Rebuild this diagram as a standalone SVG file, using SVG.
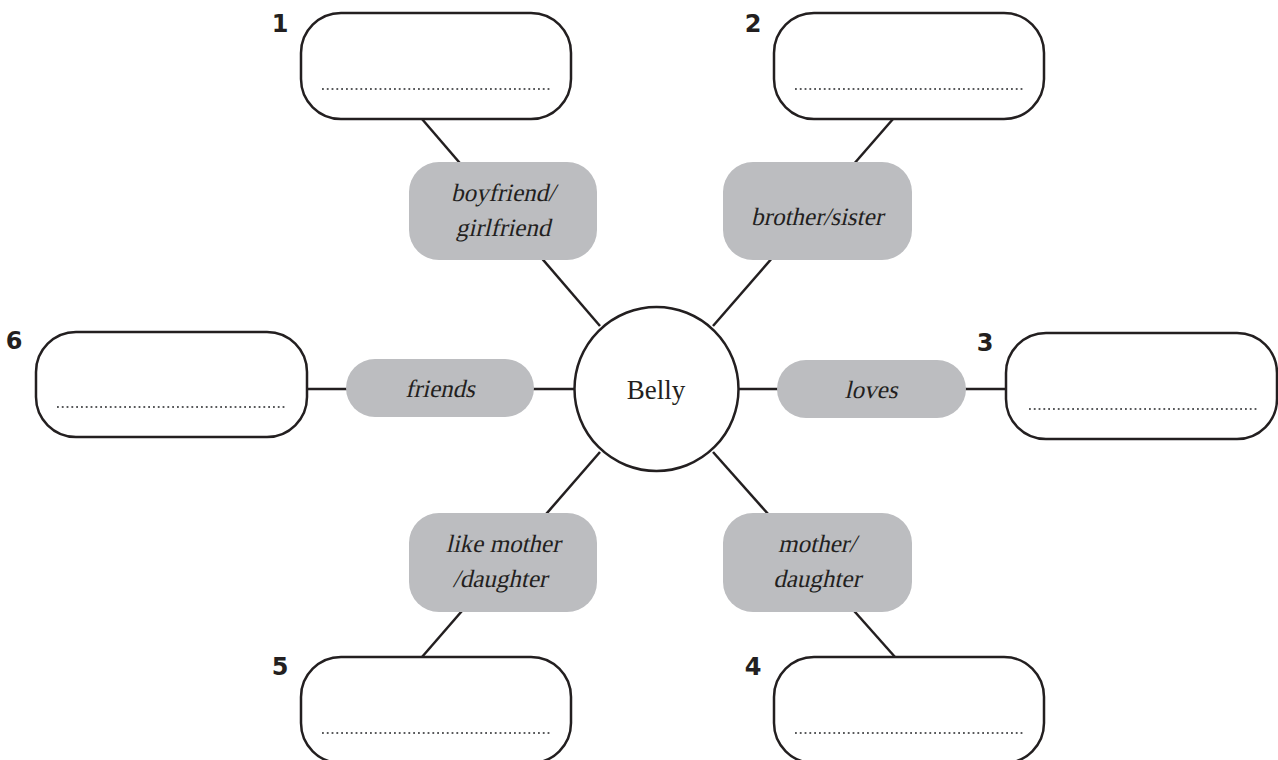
<svg xmlns="http://www.w3.org/2000/svg" width="1278" height="760" viewBox="0 0 1278 760">
<style>
.box{fill:#fff;stroke:#231f20;stroke-width:2.5}
.pill{fill:#bcbdc0;stroke:none}
.dots{stroke:#58595b;stroke-width:2.2;stroke-dasharray:1.8 3;fill:none}
.conn{stroke:#231f20;stroke-width:2.5;fill:none}
.lbl{font-family:"Liberation Serif","Times New Roman",serif;font-size:25px;fill:#231f20;text-anchor:middle}
.num{font-family:"DejaVu Sans","Liberation Sans",sans-serif;font-weight:bold;font-size:24px;fill:#231f20;text-anchor:middle}
.ctr{font-family:"Liberation Serif","Times New Roman",serif;font-size:27px;fill:#231f20;text-anchor:middle}
</style>
<rect width="1278" height="760" fill="#fff"/>
<g id="connectors">
<line class="conn" x1="422" y1="119" x2="600" y2="326"/>
<line class="conn" x1="893" y1="119" x2="713" y2="326"/>
<line class="conn" x1="307" y1="389" x2="575" y2="389"/>
<line class="conn" x1="738" y1="389" x2="1006" y2="389"/>
<line class="conn" x1="600" y1="452" x2="422" y2="657"/>
<line class="conn" x1="713" y1="452" x2="895" y2="657"/>
</g>
<g id="box1"><rect class="box" x="301" y="13" width="270" height="106" rx="40"/><line class="dots" x1="322" y1="89" x2="550" y2="89"/><text class="num" x="280" y="32">1</text></g>
<g id="box2"><rect class="box" x="774" y="13" width="270" height="106" rx="40"/><line class="dots" x1="795" y1="89" x2="1023" y2="89"/><text class="num" x="753" y="32">2</text></g>
<g id="box6"><rect class="box" x="36" y="332" width="271" height="105" rx="40"/><line class="dots" x1="57" y1="407" x2="285" y2="407"/><text class="num" x="14" y="349">6</text></g>
<g id="box3"><rect class="box" x="1006" y="333" width="271" height="106" rx="40"/><line class="dots" x1="1029" y1="409" x2="1257" y2="409"/><text class="num" x="985" y="351">3</text></g>
<g id="box5"><rect class="box" x="301" y="657" width="270" height="106" rx="40"/><line class="dots" x1="322" y1="733" x2="550" y2="733"/><text class="num" x="280" y="675">5</text></g>
<g id="box4"><rect class="box" x="774" y="657" width="270" height="106" rx="40"/><line class="dots" x1="795" y1="733" x2="1023" y2="733"/><text class="num" x="753" y="675">4</text></g>
<g id="pill-boyfriend"><rect class="pill" x="409" y="162" width="188" height="98" rx="30"/><text class="lbl" transform="translate(503,201) skewX(-13)">boyfriend/</text><text class="lbl" transform="translate(503,236) skewX(-13)">girlfriend</text></g>
<g id="pill-brother"><rect class="pill" x="723" y="162" width="189" height="98" rx="30"/><text class="lbl" transform="translate(817,225) skewX(-13)">brother/sister</text></g>
<g id="pill-friends"><rect class="pill" x="346" y="359" width="188" height="58" rx="29"/><text class="lbl" transform="translate(440,397) skewX(-13)">friends</text></g>
<g id="pill-loves"><rect class="pill" x="777" y="360" width="189" height="58" rx="29"/><text class="lbl" transform="translate(871,398) skewX(-13)">loves</text></g>
<g id="pill-likemother"><rect class="pill" x="409" y="513" width="188" height="99" rx="30"/><text class="lbl" transform="translate(503,552) skewX(-13)">like mother</text><text class="lbl" transform="translate(500,587) skewX(-13)">/daughter</text></g>
<g id="pill-mother"><rect class="pill" x="723" y="513" width="189" height="99" rx="30"/><text class="lbl" transform="translate(817,552) skewX(-13)">mother/</text><text class="lbl" transform="translate(817,587) skewX(-13)">daughter</text></g>
<g id="belly"><circle class="box" cx="656.5" cy="389" r="82"/><text class="ctr" x="656" y="399">Belly</text></g>
</svg>
